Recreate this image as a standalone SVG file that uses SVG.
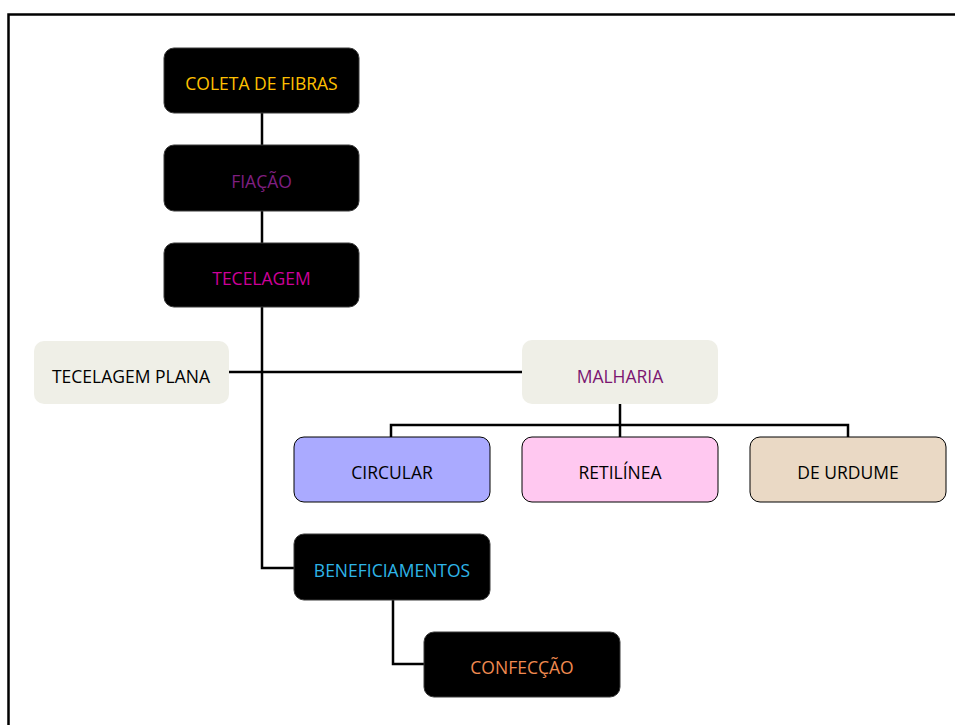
<svg xmlns="http://www.w3.org/2000/svg" width="955" height="725" viewBox="0 0 955 725">
<style>
.dark{fill:#000;stroke:#3a3a3a;stroke-width:1}
.light{fill:#EFEFE7;stroke:none}
.sub{stroke:#000;stroke-width:1}
text{font-family:"Open Sans","Liberation Sans",sans-serif;font-size:17.5px;text-anchor:middle;dominant-baseline:central}
.c{fill:none;stroke:#000;stroke-width:2.5}
</style>
<rect x="0" y="0" width="955" height="725" fill="#fff"/>
<path d="M8.5,725 V14.5 H955" fill="none" stroke="#000" stroke-width="2.5"/>
<g id="connectors">
<path class="c" d="M262,113 V568 H294"/>
<path class="c" d="M229,372 H522"/>
<path class="c" d="M620,404 V437"/>
<path class="c" d="M391,437 V425 H848 V437"/>
<path class="c" d="M393,600 V664 H424"/>
</g>
<g id="coleta"><rect class="dark" x="164" y="48" width="195" height="65" rx="10"/><text x="261.5" y="82.5" fill="#FFC000">COLETA DE FIBRAS</text></g>
<g id="fiacao"><rect class="dark" x="164" y="145" width="195" height="66" rx="10"/><text x="261.5" y="180.5" fill="#7F1F80">FIAÇÃO</text></g>
<g id="tecelagem"><rect class="dark" x="164" y="243" width="195" height="64" rx="10"/><text x="261.5" y="277.5" fill="#CC0099">TECELAGEM</text></g>
<g id="tecelagem-plana"><rect class="light" x="34" y="341" width="195" height="63" rx="10"/><text x="131" y="376" fill="#000">TECELAGEM PLANA</text></g>
<g id="malharia"><rect class="light" x="522" y="340" width="196" height="64" rx="10"/><text x="620" y="375.5" fill="#7B1570">MALHARIA</text></g>
<g id="circular"><rect class="sub" x="294" y="437" width="196" height="65" rx="10" fill="#AAAAFF"/><text x="392" y="472" fill="#000">CIRCULAR</text></g>
<g id="retilinea"><rect class="sub" x="522" y="437" width="196" height="65" rx="10" fill="#FFC8F0"/><text x="620" y="472" fill="#000">RETILÍNEA</text></g>
<g id="de-urdume"><rect class="sub" x="750" y="437" width="196" height="65" rx="10" fill="#EAD9C5"/><text x="848" y="472" fill="#000">DE URDUME</text></g>
<g id="beneficiamentos"><rect class="dark" x="294" y="534" width="196" height="66" rx="10"/><text x="392" y="569.5" fill="#2EB5E8">BENEFICIAMENTOS</text></g>
<g id="confeccao"><rect class="dark" x="424" y="632" width="196" height="65" rx="10"/><text x="522" y="667" fill="#F08A50">CONFECÇÃO</text></g>
</svg>
